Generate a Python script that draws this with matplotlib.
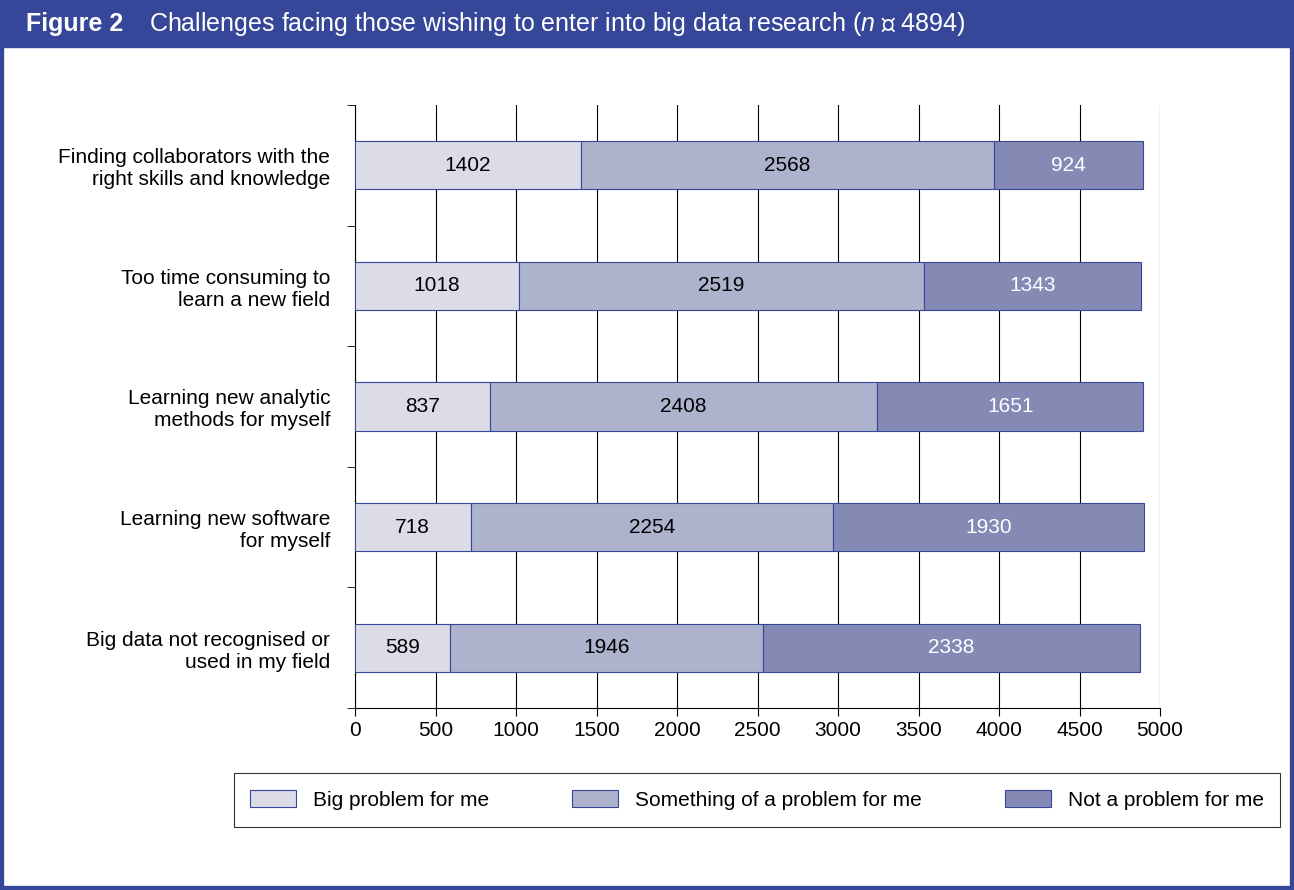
import numpy as np
import matplotlib
matplotlib.use("Agg")
import matplotlib.pyplot as plt
from matplotlib.patches import Rectangle

plt.rcParams['font.family'] = ['Liberation Sans', 'DejaVu Sans']
plt.rcParams['mathtext.fontset'] = 'custom'
plt.rcParams['mathtext.it'] = 'Liberation Sans:italic'

categories = ["Finding collaborators with the\nright skills and knowledge",
              "Too time consuming to\nlearn a new field",
              "Learning new analytic\nmethods for myself",
              "Learning new software\nfor myself",
              "Big data not recognised or\nused in my field"]
big = [1402, 1018, 837, 718, 589]
something = [2568, 2519, 2408, 2254, 1946]
notp = [924, 1343, 1651, 1930, 2338]
series = ["Big problem for me", "Something of a problem for me", "Not a problem for me"]
colors = ["#dcdce9", "#adb2cd", "#858ab5"]
txtcol = ["black", "black", "white"]
BLUE = "#36479a"

fig = plt.figure(figsize=(12.94, 8.9), dpi=100)
fig.patches.append(Rectangle((0, 0), 1, 1, transform=fig.transFigure, fill=False,
                             edgecolor=BLUE, lw=6))
fig.patches.append(Rectangle((0, 1 - 47 / 890), 1, 47 / 890, transform=fig.transFigure,
                             color=BLUE))
fig.text(0.02, 1 - 24 / 890, "Figure 2", color="white", fontsize=18, weight="bold", va="center")
fig.text(0.115, 1 - 24 / 890, "Challenges facing those wishing to enter into big data research ($n$ \u2245 4894)",
         color="white", fontsize=18, va="center")

ax = fig.add_axes([355 / 1294, 1 - 708 / 890, 805 / 1294, 603 / 890])
y = np.arange(len(categories))
left = np.zeros(len(categories))
for vals, c, tc, lab in zip([big, something, notp], colors, txtcol, series):
    vals = np.array(vals)
    ax.barh(y, vals, left=left, height=0.4, color=c, edgecolor=BLUE, lw=0.8, label=lab, zorder=3)
    for yi, l, v in zip(y, left, vals):
        ax.text(l + v / 2, yi, str(v), ha="center", va="center", color=tc, fontsize=15, zorder=4)
    left += vals

ax.set_xlim(0, 5000)
ax.set_ylim(len(categories) - 0.5, -0.5)
ax.set_xticks(np.arange(0, 5001, 500))
ax.tick_params(axis="x", labelsize=15, direction="out", length=6)
ax.set_yticks(y)
ax.set_yticklabels(categories, fontsize=15, ha="right")
ax.tick_params(axis="y", length=0, pad=18)
ax.set_yticks(np.arange(-0.5, len(categories)), minor=True)
ax.tick_params(axis="y", which="minor", length=6, direction="out")
ax.grid(axis="x", color="black", lw=0.8, zorder=0)
for s in ["top", "right"]:
    ax.spines[s].set_visible(False)

leg = fig.legend(loc="center", bbox_to_anchor=(757 / 1294, 1 - 800 / 890), ncol=3, fontsize=15,
                 frameon=True, fancybox=False, edgecolor="black", handlelength=2.2,
                 handleheight=0.9, columnspacing=4, borderpad=0.8)
leg.get_frame().set_linewidth(0.8)
fig.savefig("out.png", dpi=100)
